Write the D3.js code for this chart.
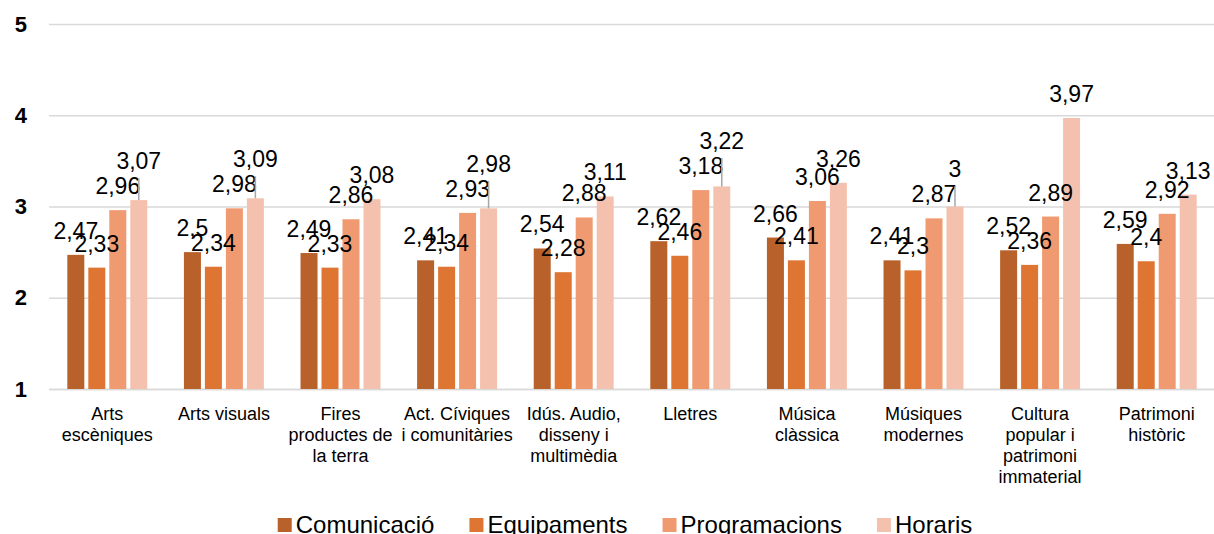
<!DOCTYPE html>
<html>
<head>
<meta charset="utf-8">
<script src="https://cdn.jsdelivr.net/npm/d3@7"></script>
<style>
  body { margin: 0; background: #fff; }
  svg { font-family: "Liberation Sans", Arial, sans-serif; }
</style>
</head>
<body>
<div id="chart"></div>
<script>
// categories (line breaks as in the original)
var categories = [
  "Arts\nescèniques",
  "Arts visuals",
  "Fires\nproductes de\nla terra",
  "Act. Cíviques\ni comunitàries",
  "Idús. Audio,\ndisseny i\nmultimèdia",
  "Lletres",
  "Música\nclàssica",
  "Músiques\nmodernes",
  "Cultura\npopular i\npatrimoni\nimmaterial",
  "Patrimoni\nhistòric"
];

var seriesNames = ["Comunicació", "Equipaments", "Programacions", "Horaris"];
var seriesColors = ["#b9612a", "#de7532", "#f09a71", "#f5c1af"];

var comunicacio   = [2.47, 2.5, 2.49, 2.41, 2.54, 2.62, 2.66, 2.41, 2.52, 2.59];
var equipaments   = [2.33, 2.34, 2.33, 2.34, 2.28, 2.46, 2.41, 2.3, 2.36, 2.4];
var programacions = [2.96, 2.98, 2.86, 2.93, 2.88, 3.18, 3.06, 2.87, 2.89, 2.92];
var horaris       = [3.07, 3.09, 3.08, 2.98, 3.11, 3.22, 3.26, 3, 3.97, 3.13];

var yTicks = [1, 2, 3, 4, 5];

var allSeries = [comunicacio, equipaments, programacions, horaris];

var W = 1214, H = 534;
var margin = {top: 24, right: -1, bottom: 145, left: 49};
var width = W - margin.left - margin.right,
    height = H - margin.top - margin.bottom;

var svg = d3.select("#chart").append("svg")
    .attr("width", W)
    .attr("height", H);

var g = svg.append("g")
    .attr("transform", "translate(" + margin.left + "," + margin.top + ")");

var x0 = d3.scaleBand()
    .domain(categories)
    .range([0, width]);

var x1 = d3.scaleBand()
    .domain(seriesNames)
    .range([x0.bandwidth() * 0.14, x0.bandwidth() * 0.86])
    .paddingInner(0.19)
    .paddingOuter(0.095);

var y = d3.scaleLinear()
    .domain([1, 5])
    .range([height, 0]);

// gridlines + y labels
var yAxis = g.append("g")
    .attr("class", "y-axis")
    .call(d3.axisLeft(y).tickValues(yTicks).tickSize(-width).tickPadding(22).tickFormat(d3.format("d")));
yAxis.select(".domain").remove();
yAxis.selectAll(".tick line")
    .attr("stroke", "#d9d9d9")
    .attr("stroke-width", 1.5);
yAxis.selectAll(".tick text")
    .attr("fill", "#000")
    .attr("font-size", "22px")
    .attr("font-weight", "bold")
    .attr("font-family", "Liberation Sans, Arial, sans-serif");

// x axis with wrapped category labels
var xAxis = g.append("g")
    .attr("class", "x-axis")
    .attr("transform", "translate(0," + height + ")")
    .call(d3.axisBottom(x0).tickSize(0).tickPadding(0));
xAxis.select(".domain")
    .attr("stroke", "#d9d9d9")
    .attr("stroke-width", 1.5);
xAxis.selectAll(".tick text").each(function(d) {
  var t = d3.select(this);
  var lines = d.split("\n");
  t.text(null)
    .attr("fill", "#000")
    .attr("font-size", "18px")
    .attr("font-family", "Liberation Sans, Arial, sans-serif")
    .attr("y", 30.5)
    .attr("dy", null);
  lines.forEach(function(line, i) {
    t.append("tspan")
      .attr("x", 0)
      .attr("dy", i === 0 ? 0 : 21)
      .text(line);
  });
});

// bars
var groups = g.selectAll(".group")
    .data(categories)
    .enter()
    .append("g")
    .attr("class", "group")
    .attr("transform", function(d) { return "translate(" + x0(d) + ",0)"; });

groups.each(function(cat, ci) {
  var grp = d3.select(this);
  var rows = seriesNames.map(function(s, si) {
    return {series: s, si: si, value: allSeries[si][ci]};
  });

  grp.selectAll("rect")
    .data(rows)
    .enter()
    .append("rect")
    .attr("x", function(d) { return x1(d.series); })
    .attr("y", function(d) { return y(d.value); })
    .attr("width", x1.bandwidth())
    .attr("height", function(d) { return height - y(d.value); })
    .attr("fill", function(d) { return seriesColors[d.si]; });

  // label baselines: default sits just above the bar top
  rows.forEach(function(d) { d.base = y(d.value) - 16; d.moved = false; });
  // Horaris label gets pushed up if it clashes with the Programacions label
  var prev = rows[2], last = rows[3];
  if (prev.base - last.base < 16) {
    last.base = prev.base - 25;
    last.moved = true;
  }

  rows.forEach(function(d) {
    var cx = x1(d.series) + x1.bandwidth() / 2;
    if (d.moved) {
      grp.append("line")
        .attr("x1", cx).attr("x2", cx)
        .attr("y1", d.base + 9)
        .attr("y2", y(d.value))
        .attr("stroke", "#a6a6a6")
        .attr("stroke-width", 1.5);
    }
    grp.append("text")
      .attr("x", cx)
      .attr("y", d.base)
      .attr("text-anchor", "middle")
      .attr("font-size", "23px")
      .attr("fill", "#000")
      .text(String(d.value).replace(".", ","));
  });
});

// legend
var legend = svg.append("g").attr("class", "legend");
var lx = 0;
var items = legend.selectAll("g")
    .data(seriesNames)
    .enter()
    .append("g");
items.append("rect")
    .attr("width", 14)
    .attr("height", 14)
    .attr("y", -15)
    .attr("fill", function(d, i) { return seriesColors[i]; });
items.append("text")
    .attr("x", 18)
    .attr("font-size", "24px")
    .attr("fill", "#000")
    .text(function(d) { return d; });
items.each(function() {
  var node = d3.select(this);
  var w = node.select("text").node().getComputedTextLength() + 18;
  node.attr("transform", "translate(" + lx + ",0)");
  lx += w + 35;
});
lx -= 35;
legend.attr("transform", "translate(" + (625 - lx / 2) + ",533)");
</script>
</body>
</html>
